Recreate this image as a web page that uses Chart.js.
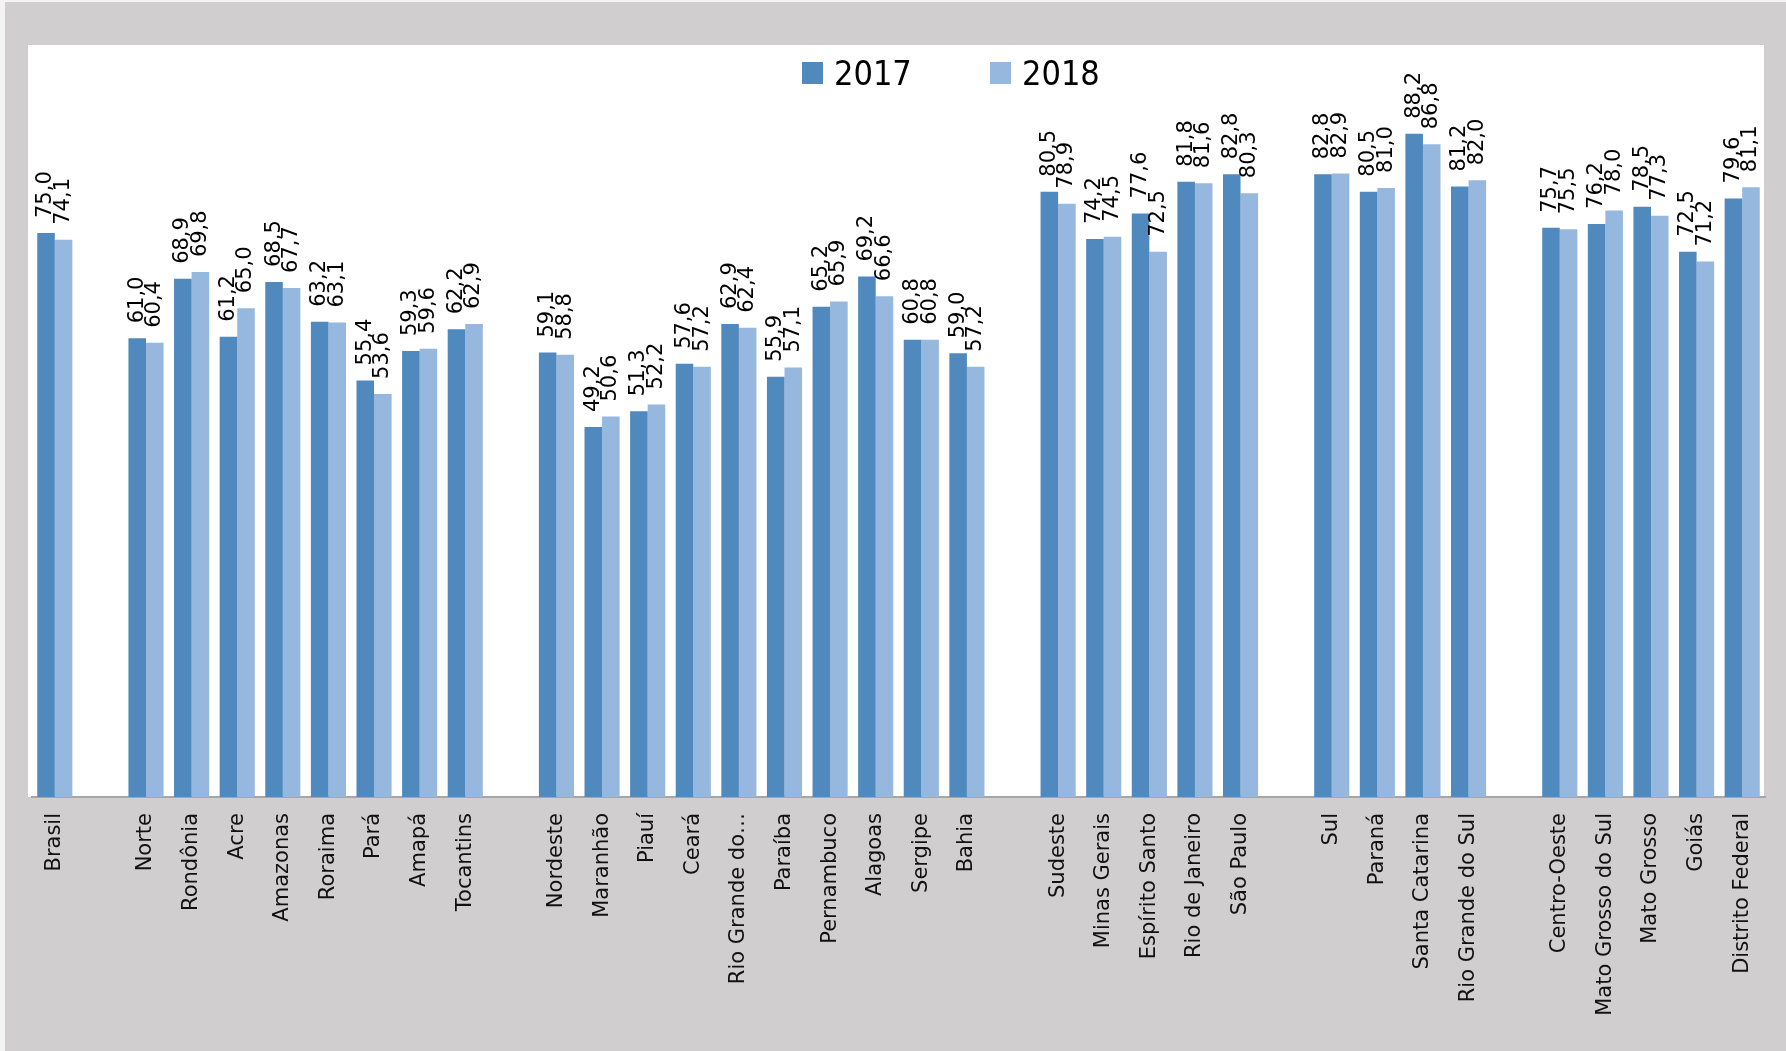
<!DOCTYPE html>
<html>
<head>
<meta charset="utf-8">
<script src="https://cdn.jsdelivr.net/npm/chart.js@4.4.1/dist/chart.umd.min.js"></script>
<style>
    body { margin: 0; background: #f4f4f4; width: 1786px; height: 1051px; overflow: hidden; position: relative; }
    #bg { position: absolute; left: 5px; top: 2px; right: 0; bottom: 0; background: #d0cecf; }
    #myChart { position: absolute; left: 0; top: 0; }
    #legend { position: absolute; left: 802px; top: 56px; display: flex; align-items: center;
        font-family: 'DejaVu Sans Condensed', 'Liberation Sans Narrow', sans-serif; font-size: 34px; line-height: 34px; color: #000; }
    .item { display: flex; align-items: center; width: 188px; }
    .box { width: 21px; height: 22px; margin-right: 11px; }
</style>
</head>
<body>
<div id="bg"></div>
<canvas id="myChart" width="1786" height="1051"></canvas>
<div id="legend"></div>
<script>
const labels = ['Brasil', '', 'Norte', 'Rondônia', 'Acre', 'Amazonas', 'Roraima', 'Pará', 'Amapá', 'Tocantins',
    '', 'Nordeste', 'Maranhão', 'Piauí', 'Ceará', 'Rio Grande do…', 'Paraíba', 'Pernambuco', 'Alagoas', 'Sergipe', 'Bahia',
    '', 'Sudeste', 'Minas Gerais', 'Espírito Santo', 'Rio de Janeiro', 'São Paulo',
    '', 'Sul', 'Paraná', 'Santa Catarina', 'Rio Grande do Sul',
    '', 'Centro-Oeste', 'Mato Grosso do Sul', 'Mato Grosso', 'Goiás', 'Distrito Federal'];

const values2017 = [75.0, null, 61.0, 68.9, 61.2, 68.5, 63.2, 55.4, 59.3, 62.2,
    null, 59.1, 49.2, 51.3, 57.6, 62.9, 55.9, 65.2, 69.2, 60.8, 59.0,
    null, 80.5, 74.2, 77.6, 81.8, 82.8,
    null, 82.8, 80.5, 88.2, 81.2,
    null, 75.7, 76.2, 78.5, 72.5, 79.6];

const values2018 = [74.1, null, 60.4, 69.8, 65.0, 67.7, 63.1, 53.6, 59.6, 62.9,
    null, 58.8, 50.6, 52.2, 57.2, 62.4, 57.1, 65.9, 66.6, 60.8, 57.2,
    null, 78.9, 74.5, 72.5, 81.6, 80.3,
    null, 82.9, 81.0, 86.8, 82.0,
    null, 75.5, 78.0, 77.3, 71.2, 81.1];

const seriesNames = ['2017', '2018'];
const colors = ['#4f89bd', '#96b7de'];

// white plot panel behind the bars
const panelPlugin = {
    id: 'panel',
    beforeDraw(chart) {
        const { ctx, chartArea: a } = chart;
        ctx.save();
        ctx.fillStyle = '#ffffff';
        ctx.fillRect(a.left - 4, a.top, a.right - a.left + 3, a.bottom - a.top);
        ctx.restore();
    }
};

// vertical value labels above each bar
const valueLabels = {
    id: 'valueLabels',
    afterDatasetsDraw(chart) {
        const ctx = chart.ctx;
        chart.data.datasets.forEach((ds, i) => {
            const meta = chart.getDatasetMeta(i);
            meta.data.forEach((bar, j) => {
                const v = ds.data[j];
                if (v == null) return;
                ctx.save();
                ctx.font = '21px "DejaVu Sans"';
                ctx.fillStyle = '#000';
                ctx.translate(bar.x, bar.y - 15);
                ctx.rotate(-Math.PI / 2);
                ctx.textAlign = 'left';
                ctx.textBaseline = 'middle';
                ctx.fillText(v.toFixed(1).replace('.', ','), 0, 0);
                ctx.restore();
            });
        });
    }
};

const ctx = document.getElementById('myChart').getContext('2d');

const chart = new Chart(ctx, {
    type: 'bar',
    data: {
        labels: labels,
        datasets: [
            { label: seriesNames[0], data: values2017, backgroundColor: colors[0], borderWidth: 0 },
            { label: seriesNames[1], data: values2018, backgroundColor: colors[1], borderWidth: 0 }
        ]
    },
    options: {
        responsive: false,
        animation: false,
        layout: { padding: { top: 45, left: 32, right: 21, bottom: 0 } },
        datasets: { bar: { categoryPercentage: 0.77, barPercentage: 1.0 } },
        scales: {
            y: { display: false, min: 0, max: 100 },
            x: {
                grid: { display: false, drawTicks: false },
                border: { display: true, color: '#a6a6a6', width: 2 },
                ticks: {
                    autoSkip: false,
                    minRotation: 90,
                    maxRotation: 90,
                    padding: 16,
                    color: '#111',
                    font: { family: 'DejaVu Sans', size: 21 }
                },
                afterFit: (scale) => { scale.height = 254; }
            }
        },
        plugins: {
            legend: { display: false },
            tooltip: { enabled: false }
        }
    },
    plugins: [panelPlugin, valueLabels]
});

// html legend built from the datasets
document.getElementById('legend').innerHTML = chart.data.datasets.map(d =>
    `<div class="item"><span class="box" style="background:${d.backgroundColor}"></span><span>${d.label}</span></div>`
).join('');
</script>
</body>
</html>
